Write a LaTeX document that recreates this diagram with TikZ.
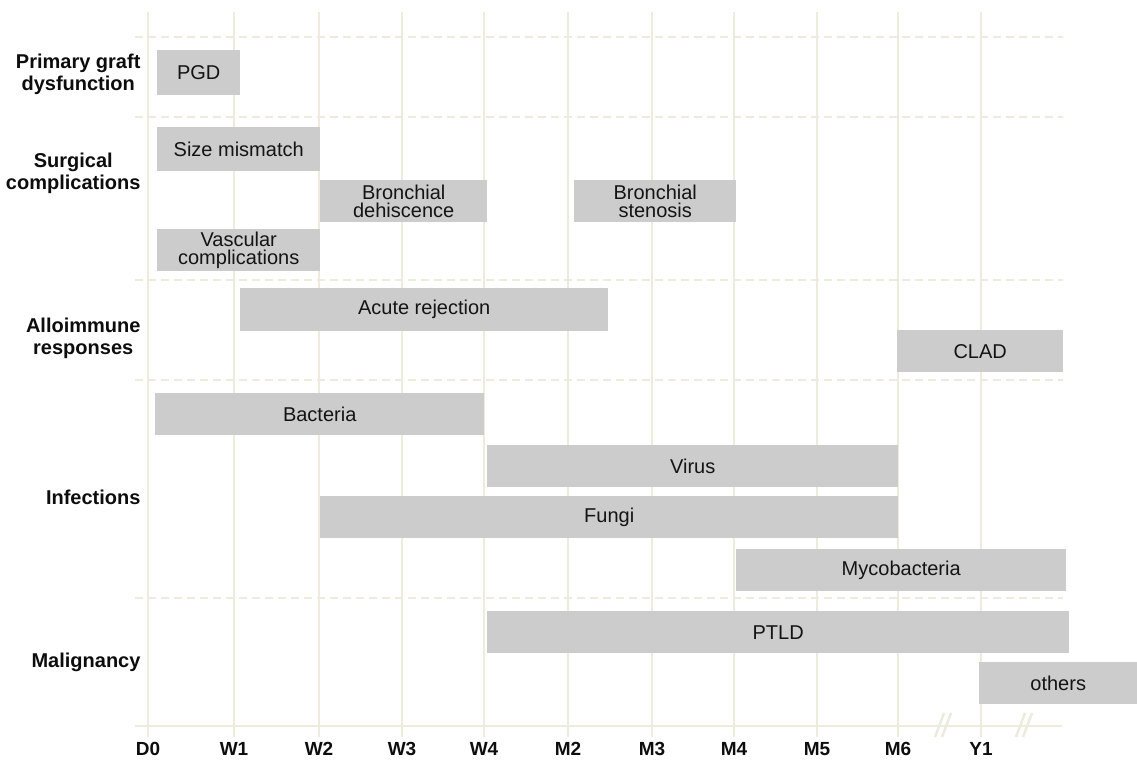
\documentclass[tikz,border=0pt]{standalone}
\usepackage{fontspec}
\setmainfont{Liberation Sans}
\definecolor{gridline}{RGB}{236,235,222}
\definecolor{barfill}{RGB}{204,204,204}
\begin{document}
\begin{tikzpicture}[x=1pt,y=-1pt,
  bar/.style={fill=barfill, text=black!92, anchor=north west, inner sep=0pt,
    align=center, font=\fontsize{20}{18}\selectfont},
  category/.style={anchor=east, align=center, text=black!95,
    font=\fontsize{20}{22}\selectfont\bfseries},
  ticklabel/.style={text=black!95, font=\fontsize{19}{19}\selectfont\bfseries},
  gridv/.style={draw=gridline, line width=2.5pt},
  gridh/.style={draw=gridline, line width=2.5pt, dash pattern=on 8pt off 5pt}]
  \useasboundingbox (0,0) rectangle (1137,762);

  \foreach \y in {37,117,280,380,598}
    \draw[gridh] (135,\y) -- (1063,\y);
  \foreach \t/\x in {D0/148,W1/234,W2/319,W3/402,W4/484,M2/568,M3/652,M4/734,M5/817,M6/898,Y1/981} {
    \draw[gridv] (\x,12) -- (\x,737);
    \node[ticklabel] (\t) at (\x,749) {\t};
  }
  \draw[gridv] (135,726) -- (1062,726);
  \draw[gridv] (935,737) -- (944,713);
  \draw[gridv] (942,737) -- (951,713);
  \draw[gridv] (1016,737) -- (1025,713);
  \draw[gridv] (1023,737) -- (1032,713);

  \node[category] (pgdcat) at (144,74) {Primary graft\\dysfunction};
  \node[category] (surgcat) at (144,173) {Surgical\\complications};
  \node[category] (allocat) at (144,338) {Alloimmune\\responses};
  \node[category] (infcat) at (144,497) {Infections};
  \node[category] (malcat) at (144,662) {Malignancy};

  \node[bar, minimum width=83, minimum height=45] (pgd) at (157,50) {PGD};
  \node[bar, minimum width=163, minimum height=44] (sizemm) at (157,127) {Size mismatch};
  \node[bar, minimum width=167, minimum height=42] (dehisc) at (320,180) {Bronchial\\dehiscence};
  \node[bar, minimum width=162, minimum height=42] (stenosis) at (574,180) {Bronchial\\stenosis};
  \node[bar, minimum width=163, minimum height=42] (vascular) at (157,229) {Vascular\\complications};
  \node[bar, minimum width=368, minimum height=43] (acute) at (240,288) {Acute rejection};
  \node[bar, minimum width=166, minimum height=42] (clad) at (897,330) {CLAD};
  \node[bar, minimum width=329, minimum height=42] (bacteria) at (155,393) {Bacteria};
  \node[bar, minimum width=411, minimum height=42] (virus) at (487,445) {Virus};
  \node[bar, minimum width=578, minimum height=42] (fungi) at (320,496) {Fungi};
  \node[bar, minimum width=330, minimum height=42] (myco) at (736,549) {Mycobacteria};
  \node[bar, minimum width=582, minimum height=42] (ptld) at (487,611) {PTLD};
  \node[bar, minimum width=158, minimum height=42] (others) at (979,662) {others};
\end{tikzpicture}
\end{document}
